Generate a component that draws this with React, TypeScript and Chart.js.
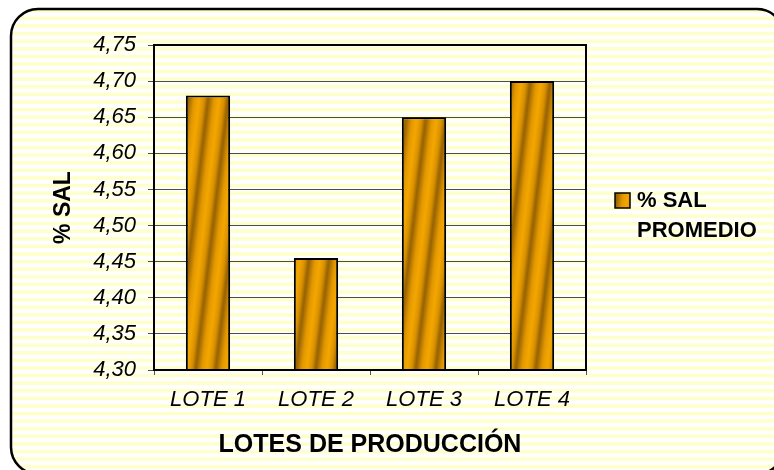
import React, { useEffect, useRef } from "react";
import { Chart, registerables } from "chart.js";

Chart.register(...registerables);

const CATEGORIES = ["LOTE 1", "LOTE 2", "LOTE 3", "LOTE 4"];
const SAL_PROMEDIO = [4.68, 4.455, 4.65, 4.7];
const Y_TICKS = [4.3, 4.35, 4.4, 4.45, 4.5, 4.55, 4.6, 4.65, 4.7, 4.75];
const SERIES_LABEL = ["% SAL", "PROMEDIO"];
const X_TITLE = "LOTES DE PRODUCCIÓN";
const Y_TITLE = "% SAL";

const FONT = "'Liberation Sans', Arial, sans-serif";

function makeBarPattern(ctx: CanvasRenderingContext2D): CanvasPattern | string {
  const P = 20;
  const tile = document.createElement("canvas");
  tile.width = P;
  tile.height = 4;
  const t = tile.getContext("2d");
  if (!t) return "#e69a00";
  const g = t.createLinearGradient(0, 0, P, 0);
  g.addColorStop(0, "#946000");
  g.addColorStop(0.3, "#e29700");
  g.addColorStop(0.55, "#f4a700");
  g.addColorStop(0.8, "#d89000");
  g.addColorStop(1, "#946000");
  t.fillStyle = g;
  t.fillRect(0, 0, P, 4);
  const pat = ctx.createPattern(tile, "repeat");
  if (!pat) return "#e69a00";
  try {
    pat.setTransform(new DOMMatrix([1, 0, -0.12, 1, 0, 0]));
  } catch (e) {}
  return pat;
}

export default function App() {
  const ref = useRef<HTMLCanvasElement | null>(null);

  useEffect(() => {
    const canvas = ref.current;
    if (!canvas) return;
    const ctx = canvas.getContext("2d");
    if (!ctx) return;
    const pattern = makeBarPattern(ctx);

    const bgPlugin = {
      id: "bgFrame",
      beforeDraw(chart: any) {
        const c = chart.ctx as CanvasRenderingContext2D;
        c.save();
        c.fillStyle = "#ffffff";
        c.fillRect(0, 0, chart.width, chart.height);
        c.beginPath();
        (c as any).roundRect(11, 9, 773, 465, 27);
        c.clip();
        c.fillStyle = "#FFFFCC";
        for (let y = 9; y < chart.height; y += 7.6) {
          c.fillRect(11, y, 773, 3.6);
        }
        c.restore();
        c.save();
        c.lineWidth = 2.5;
        c.strokeStyle = "#000";
        c.beginPath();
        (c as any).roundRect(11, 9, 773, 465, 27);
        c.stroke();
        c.restore();
      },
      afterDraw(chart: any) {
        const c = chart.ctx as CanvasRenderingContext2D;
        const a = chart.chartArea;
        c.save();
        c.lineWidth = 2;
        c.strokeStyle = "#000";
        c.strokeRect(a.left, a.top, a.right - a.left, a.bottom - a.top);
        // legend
        c.fillStyle = pattern as any;
        c.fillRect(615, 193, 15, 15);
        c.lineWidth = 1.5;
        c.strokeRect(615, 193, 15, 15);
        c.fillStyle = "#000";
        c.font = `bold 22px ${FONT}`;
        c.textBaseline = "middle";
        c.textAlign = "left";
        c.fillText(SERIES_LABEL[0], 637, 201);
        c.fillText(SERIES_LABEL[1], 637, 231);
        c.restore();
      },
    };

    const chart = new Chart(canvas, {
      type: "bar",
      data: {
        labels: CATEGORIES,
        datasets: [
          {
            label: SERIES_LABEL.join(" "),
            data: SAL_PROMEDIO,
            backgroundColor: pattern as any,
            borderColor: "#000",
            borderWidth: 2,
            barPercentage: 0.41,
            categoryPercentage: 1,
          },
        ],
      },
      options: {
        animation: false,
        responsive: false,
        devicePixelRatio: 1,
        events: [],
        layout: { padding: { left: 50, top: 45, right: 188, bottom: 0 } },
        plugins: {
          legend: { display: false },
          tooltip: { enabled: false },
        },
        scales: {
          x: {
            offset: true,
            grid: {
              display: true,
              drawOnChartArea: false,
              drawTicks: true,
              tickLength: 5,
              offset: true,
              color: "#555",
            },
            border: { display: true, color: "#000", width: 2 },
            ticks: {
              color: "#000",
              padding: 12,
              font: { family: FONT, size: 22, style: "italic" },
            },
            title: {
              display: true,
              text: X_TITLE,
              color: "#000",
              font: { family: FONT, size: 25, weight: "bold" },
              padding: { top: 0, bottom: 10 },
            },
            afterFit: (s: any) => {
              s.height = 100;
            },
          },
          y: {
            min: 4.3,
            max: 4.75,
            grid: {
              color: "#4d4d4d",
              lineWidth: 1,
              drawTicks: true,
              tickLength: 6,
            },
            border: { display: true, color: "#000", width: 2 },
            afterBuildTicks: (s: any) => {
              s.ticks = Y_TICKS.map((v) => ({ value: v }));
            },
            ticks: {
              color: "#000",
              padding: 12,
              font: { family: FONT, size: 22, style: "italic" },
              callback: (v: any) => Number(v).toFixed(2).replace(".", ","),
            },
            title: {
              display: true,
              text: Y_TITLE,
              color: "#000",
              font: { family: FONT, size: 23, weight: "bold" },
              padding: { top: 0, bottom: 0 },
            },
            afterFit: (s: any) => {
              s.width = 104;
            },
          },
        },
      },
      plugins: [bgPlugin],
    } as any);

    return () => chart.destroy();
  }, []);

  return (
    <div style={{ position: "absolute", left: 0, top: 0, width: 774, height: 470 }}>
      <canvas ref={ref} width={774} height={470} style={{ display: "block" }} />
    </div>
  );
}
